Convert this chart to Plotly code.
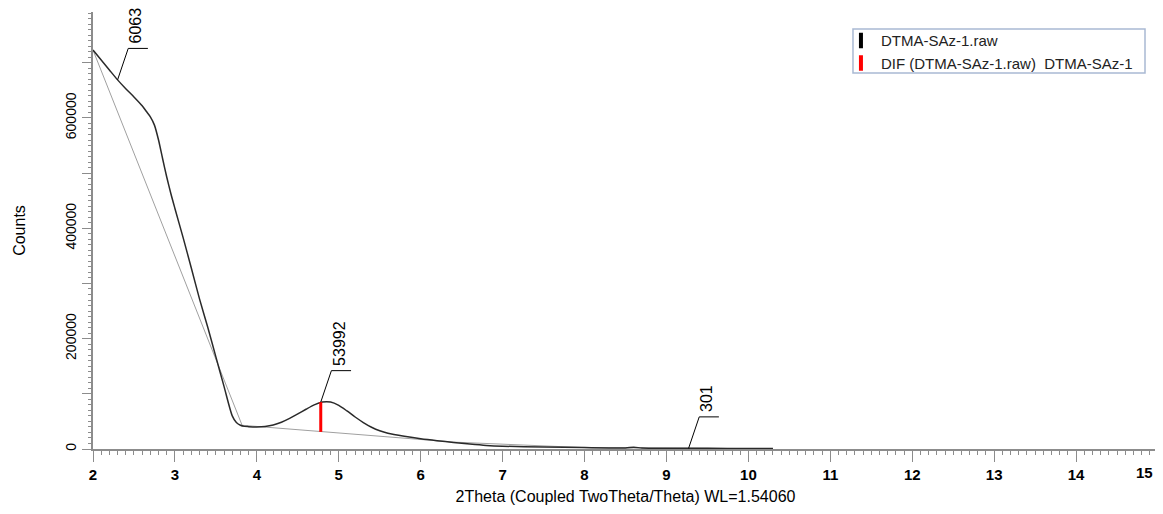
import plotly.graph_objects as go

# naměřený difraktogram
two_theta = [2.0, 2.1, 2.2, 2.3, 2.4, 2.5, 2.6, 2.65, 2.7, 2.75, 2.8, 2.85, 2.9, 2.95, 3.0,
             3.1, 3.2, 3.3, 3.4, 3.5, 3.6, 3.7, 3.75, 3.8, 3.85, 3.9, 4.0, 4.1, 4.2, 4.3,
             4.4, 4.5, 4.6, 4.7, 4.8, 4.9, 5.0, 5.1, 5.2, 5.3, 5.4, 5.5, 5.6, 5.8, 6.0,
             6.2, 6.4, 6.6, 6.8, 7.0, 7.5, 8.0, 8.5, 8.6, 8.7, 9.0, 9.5, 10.0, 10.3]
counts = [723000, 705000, 687000, 669000, 653000, 638000, 622000, 612000, 602000, 587000,
          560000, 526000, 493000, 463000, 436000, 383000, 328000, 272000, 221000, 167000,
          113000, 60000, 48000, 43000, 41000, 40500, 40000, 40800, 43500, 48500, 55500,
          63500, 72000, 80000, 85000, 85000, 79000, 69000, 58000, 48000, 39500, 33000,
          28500, 23000, 18500, 15000, 12000, 9000, 6500, 5000, 3500, 2500, 2000, 3000,
          2000, 1500, 1200, 1000, 800]

# pozadí
bg_x = [2.0, 3.82, 6.4, 8.0, 10.3]
bg_y = [723000, 43000, 12500, 2500, 500]

# označené píky
peak_x = [2.3, 4.78, 9.27]
peak_y = [669000, 85000, 1200]
peak_labels = ['606334', '53992', '301']

# DIF čára
dif_x = [4.78]
dif_top = [85000]
dif_bottom = [31000]

# popisky os
x_ticks = list(range(2, 16))
y_ticks = list(range(0, 800000, 100000))

FONT = 'Arial, Liberation Sans, sans-serif'
AX = '#8c8c8c'

fig = go.Figure()
fig.add_trace(go.Scatter(x=bg_x, y=bg_y, mode='lines', line=dict(color='#a0a0a0', width=1),
                         showlegend=False, hoverinfo='skip'))
fig.add_trace(go.Scatter(x=two_theta, y=counts, mode='lines',
                         line=dict(color='#2a2a2a', width=1.5, shape='spline', smoothing=0.7),
                         showlegend=False))
for x, t, b in zip(dif_x, dif_top, dif_bottom):
    fig.add_trace(go.Scatter(x=[x, x], y=[b, t], mode='lines', line=dict(color='#ff0000', width=3),
                             showlegend=False))

# odkazové čáry k popiskům
dx, dy, bar = 0.13, 57000, 0.24
lx, ly = [], []
for x, y in zip(peak_x, peak_y):
    lx += [x, x + dx, x + dx + bar, None]
    ly += [y, y + dy, y + dy, None]
fig.add_trace(go.Scatter(x=lx, y=ly, mode='lines', line=dict(color='black', width=1),
                         showlegend=False, hoverinfo='skip'))
for x, y, txt in zip(peak_x, peak_y, peak_labels):
    fig.add_annotation(x=x + dx + 0.09, y=y + dy, text=txt, showarrow=False, textangle=-90,
                       xanchor='center', yanchor='bottom', yshift=3,
                       font=dict(family=FONT, size=16, color='black'))

# legenda
fig.add_trace(go.Scatter(x=[None], y=[None], mode='markers', name='DTMA-SAz-1.raw',
                         marker=dict(symbol='line-ns', size=11, line=dict(width=4, color='black'))))
fig.add_trace(go.Scatter(x=[None], y=[None], mode='markers', name='DIF (DTMA-SAz-1.raw)  DTMA-SAz-1',
                         marker=dict(symbol='line-ns', size=11, line=dict(width=4, color='#ff0000'))))
fig.add_shape(type='rect', xref='paper', yref='paper', x0=0.7136, x1=0.9878, y0=0.8604, y1=0.9611,
              line=dict(color='#a9b9d3', width=1.5), fillcolor='rgba(0,0,0,0)')

ytext = [str(v) if v % 200000 == 0 else '' for v in y_ticks]
xtext = [str(v) for v in x_ticks[:-1]] + ['']

# poslední popisek osy x zarovnaný doprava, aby se vešel na stránku
fig.add_annotation(x=x_ticks[-1], xref='x', y=0, yref='paper', text=str(x_ticks[-1]),
                   showarrow=False, xanchor='right', yanchor='top', xshift=-3, yshift=-13,
                   font=dict(family=FONT, size=15, weight='bold', color='black'))

# stránka má okraj 8 px -> figura menší, aby nevznikl posuvník
fig.update_layout(
    width=1155, height=497,
    margin=dict(l=85, r=5, t=4, b=56),
    plot_bgcolor='white', paper_bgcolor='white',
    font=dict(family=FONT, color='black'),
    xaxis=dict(range=[2, 15], showgrid=False, zeroline=False, showline=True, linecolor=AX,
               linewidth=2, ticks='outside', tickvals=x_ticks, ticktext=xtext, ticklen=11, tickcolor=AX,
               tickfont=dict(size=15, weight='bold'), automargin=False,
               minor=dict(dtick=0.1, ticklen=4, tickcolor=AX, ticks='outside'),
               title=dict(text='2Theta (Coupled TwoTheta/Theta) WL=1.54060', font=dict(size=16), standoff=9)),
    xaxis2=dict(range=[2, 15], overlaying='x', anchor='y', side='bottom', showgrid=False,
                zeroline=False, showticklabels=False, ticks='outside', dtick=0.5, tick0=0.5,
                ticklen=7, tickcolor=AX, automargin=False),
    yaxis=dict(range=[0, 792000], showgrid=False, zeroline=False, showline=True, linecolor=AX,
               linewidth=2, ticks='outside', tickvals=y_ticks, ticktext=ytext, ticklen=9,
               tickcolor=AX, tickangle=-90, tickfont=dict(size=14), automargin=False,
               minor=dict(dtick=10000, ticklen=3, tickcolor=AX, ticks='outside'),
               title=dict(text='Counts', font=dict(size=16), standoff=34)),
    yaxis2=dict(range=[0, 792000], overlaying='y', anchor='x', side='left', showgrid=False,
                zeroline=False, showticklabels=False, ticks='outside', dtick=50000, tick0=0,
                ticklen=5, tickcolor=AX, automargin=False),
    legend=dict(x=0.7023, y=0.972, xanchor='left', yanchor='top', bgcolor='rgba(0,0,0,0)',
                borderwidth=0, font=dict(size=15, color='#222'),
                itemwidth=30, tracegroupgap=0),
)

fig.write_html("out.html")
